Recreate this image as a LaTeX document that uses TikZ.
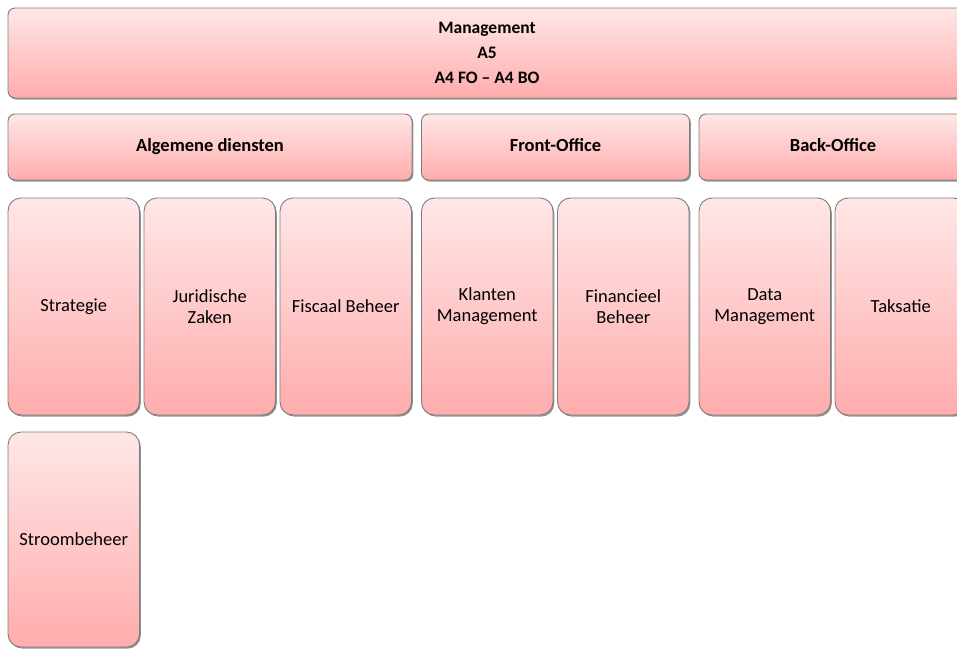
\documentclass[tikz,border=0pt]{standalone}
\usepackage{fontspec}
\setmainfont{Carlito}
\usepackage{tikz}
\usetikzlibrary{positioning,shadows}
\definecolor{boxtop}{RGB}{255,231,231}
\definecolor{boxbot}{RGB}{255,172,172}
\definecolor{edgeclr}{RGB}{125,125,125}
\tikzset{ %
  ,unit/.style={draw=edgeclr, line width=0.9pt, rounded corners=7pt, top color=boxtop, bottom color=boxbot, inner sep=0, outer sep=0, anchor=north west, align=center, drop shadow={shadow xshift=1.3pt, shadow yshift=-1.6pt, fill=black!60, opacity=0.7}}
  ,head/.style={unit, minimum height=66pt, text height=12pt, text depth=3pt, font=\fontsize{18.5}{20}\selectfont\bfseries}
  ,dept/.style={unit, rounded corners=13pt, minimum width=131.5pt, minimum height=217pt, node distance=4.5pt, font=\fontsize{18.5}{21}\selectfont}
}

\begin{document}
\begin{tikzpicture}[x=1pt, y=-1pt]
    \useasboundingbox (0,0) rectangle (957,648);
    % top row
    \node[unit, minimum width=958pt, minimum height=90pt, font=\fontsize{17.5}{25}\selectfont\bfseries] (mgmt) at (8,8) {Management\\A5\\A4 FO -- A4 BO};
    % second row
    \node[head, minimum width=404pt] (alg) at (8,114) {Algemene diensten};
    \node[head, minimum width=268pt, right=9.5pt of alg] (front) {Front-Office};
    \node[head, minimum width=268pt, right=9.5pt of front] (back) {Back-Office};
    % departments
    \node[dept] (strat) at (8,198) {Strategie};
    \node[dept, right=of strat] (jur) {Juridische\\Zaken};
    \node[dept, right=of jur] (fisc) {Fiscaal Beheer};
    \node[dept, right=10pt of fisc] (klant) {Klanten\\Management};
    \node[dept, right=of klant] (fin) {Financieel\\Beheer};
    \node[dept, right=10pt of fin] (data) {Data\\Management};
    \node[dept, right=of data] (taks) {Taksatie};
    \node[dept, minimum height=215pt, below=17pt of strat] (stroom) {Stroombeheer};
\end{tikzpicture}
\end{document}
